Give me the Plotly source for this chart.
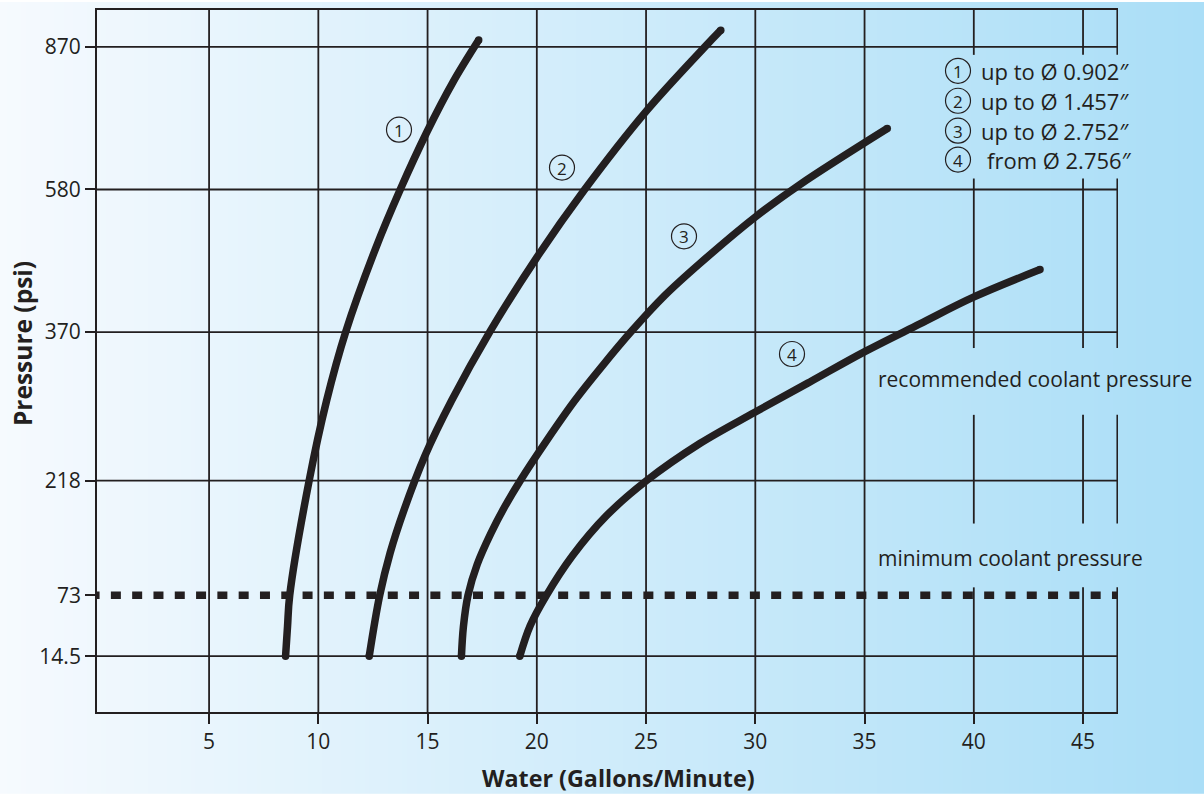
import base64
import struct
import zlib

import numpy as np
import plotly.graph_objects as go

# Water flow (gallons/minute) against coolant pressure (psi)
CURVE1_GPM = [8.50, 8.59, 8.69, 9.58, 10.38, 11.25, 12.62, 13.75, 14.98, 16.17, 17.34]
CURVE1_PSI = [14.5, 43, 73, 218, 300, 370, 493, 580, 698, 799, 884]

CURVE2_GPM = [12.33, 12.81, 13.29, 13.91, 14.87, 16.10, 17.84, 19.98, 22.19, 25.02, 27.69, 28.42]
CURVE2_PSI = [14.5, 73, 127, 180, 243, 300, 370, 479, 580, 740, 870, 904]

CURVE3_GPM = [16.55, 16.64, 16.85, 17.27, 17.89, 18.53, 19.24, 20.45, 21.74, 23.02, 24.30, 25.86, 27.46,
              29.98, 32.04, 36.04]
CURVE3_PSI = [14.5, 43, 73, 112, 151, 185, 218, 259, 300, 336, 370, 424, 471, 539, 590, 704]

CURVE4_GPM = [19.22, 19.70, 20.44, 21.63, 23.20, 25.02, 27.46, 29.98, 32.50, 35.01, 37.53, 39.96, 43.03]
CURVE4_PSI = [14.5, 44, 73, 123, 174, 218, 256, 288, 319, 350, 382, 421, 462]

CURVE_NUMBERS = ["1", "2", "3", "4"]
LEGEND_TEXT = ["up to Ø 0.902″", "up to Ø 1.457″", "up to Ø 2.752″", "from Ø 2.756″"]

# pressure axis is not linear: each labelled pressure sits at its own height
PRESSURE_TICKS = [14.5, 73, 218, 370, 580, 870]
PRESSURE_TICK_POS = [56, 117, 232, 381, 524, 667]
PRESSURE_GRID = [14.5, 218, 370, 580, 870]
GPM_TICKS = [5, 10, 15, 20, 25, 30, 35, 40, 45]

MIN_PRESSURE = 73
MIN_LINE_GPM = [-0.47, 46.6]

INK = "#231f20"
FONT = "'Open Sans', Roboto, sans-serif"
W, H = 1204, 794
L, R, T, B = 97, 86, 8, 82
PW, PH = W - L - R, H - T - B
X_RANGE = [-0.13, 46.6]


def ypos(p):
    p = np.asarray(p, dtype=float)
    pos = np.interp(p, PRESSURE_TICKS, PRESSURE_TICK_POS)
    slope = (PRESSURE_TICK_POS[-1] - PRESSURE_TICK_POS[-2]) / (PRESSURE_TICKS[-1] - PRESSURE_TICKS[-2])
    return np.where(p > PRESSURE_TICKS[-1], PRESSURE_TICK_POS[-1] + (p - PRESSURE_TICKS[-1]) * slope, pos)


def px(x):
    return (x - L) / PW


def py(y):
    return (H - B - y) / PH


def gradient_png(c0, c1, n=256):
    raw = b"\x00"
    for i in range(n):
        t = i / (n - 1)
        raw += bytes(int(round(a + (b - a) * t)) for a, b in zip(c0, c1))

    def chunk(tag, data):
        return struct.pack(">I", len(data)) + tag + data + struct.pack(">I", zlib.crc32(tag + data) & 0xffffffff)

    png = b"\x89PNG\r\n\x1a\n"
    png += chunk(b"IHDR", struct.pack(">IIBBBBB", n, 1, 8, 2, 0, 0, 0))
    png += chunk(b"IDAT", zlib.compress(raw))
    png += chunk(b"IEND", b"")
    return "data:image/png;base64," + base64.b64encode(png).decode()


fig = go.Figure()

curves = [(CURVE1_GPM, CURVE1_PSI), (CURVE2_GPM, CURVE2_PSI),
          (CURVE3_GPM, CURVE3_PSI), (CURVE4_GPM, CURVE4_PSI)]

# minimum coolant pressure, dotted
fig.add_trace(go.Scatter(x=MIN_LINE_GPM, y=ypos([MIN_PRESSURE, MIN_PRESSURE]), mode="lines",
                         line=dict(color=INK, width=7.5, dash="10px,11.3px"), hoverinfo="skip"))

for gpm, psi in curves:
    fig.add_trace(go.Scatter(x=gpm, y=ypos(psi), mode="lines",
                             line=dict(color=INK, width=7.5, shape="spline", smoothing=1.0)))
    # round caps at both ends
    fig.add_trace(go.Scatter(x=[gpm[0], gpm[-1]], y=ypos([psi[0], psi[-1]]), mode="markers",
                             marker=dict(color=INK, size=7.5, line=dict(width=0))))

grid = dict(color=INK, width=1.8)
shapes = []
for p in PRESSURE_GRID:
    yp = float(ypos(p))
    shapes.append(dict(type="line", xref="x", yref="y", x0=X_RANGE[0], x1=X_RANGE[1], y0=yp, y1=yp,
                       line=grid, layer="below"))
# vertical grid; the last columns are broken where the text sits
for g in GPM_TICKS[:7]:
    shapes.append(dict(type="line", xref="x", yref="y", x0=g, x1=g, y0=0, y1=PH, line=grid, layer="below"))
segments = [(0, 125), (189, 298), (365, 535), (659, PH)]
for g in GPM_TICKS[7:] + [X_RANGE[1] - 0.03]:
    for y0, y1 in segments:
        shapes.append(dict(type="line", xref="x", yref="y", x0=g, x1=g, y0=y0, y1=y1,
                           line=grid, layer="below"))

annotations = []
# numbered circles on the curves and in the key
label_px = [(399, 128), (562, 166), (684, 235), (792, 353)]
key_px = [(958, 69), (958, 99), (958, 129), (958, 158)]
for num, (cx, cy) in zip(CURVE_NUMBERS + CURVE_NUMBERS, label_px + key_px):
    shapes.append(dict(type="circle", xref="paper", yref="paper", xsizemode="pixel", ysizemode="pixel",
                       xanchor=px(cx), yanchor=py(cy), x0=-12.5, x1=12.5, y0=-12.5, y1=12.5,
                       line=dict(color=INK, width=1.2)))
    annotations.append(dict(text=num, x=px(cx), y=py(cy + 0.5), xref="paper", yref="paper",
                            showarrow=False, xanchor="center", yanchor="middle",
                            font=dict(family=FONT, size=17, color=INK)))

for txt, (cx, cy) in zip(LEGEND_TEXT, key_px):
    x0 = 985 if txt.startswith("from") else 979
    annotations.append(dict(text=txt, x=px(x0), y=py(cy), xref="paper", yref="paper",
                            showarrow=False, xanchor="left", yanchor="middle",
                            font=dict(family=FONT, size=22, color=INK)))

annotations.append(dict(text="recommended coolant pressure", x=px(876), y=py(378), xref="paper", yref="paper",
                        showarrow=False, xanchor="left", yanchor="middle",
                        font=dict(family=FONT, size=21, color=INK)))
annotations.append(dict(text="minimum coolant pressure", x=px(876), y=py(558), xref="paper", yref="paper",
                        showarrow=False, xanchor="left", yanchor="middle",
                        font=dict(family=FONT, size=21, color=INK)))

annotations.append(dict(text="<b>Pressure (psi)</b>", x=px(22), y=py(343), xref="paper", yref="paper",
                        showarrow=False, textangle=-90, xanchor="center", yanchor="middle",
                        font=dict(family=FONT, size=24.5, color=INK)))
annotations.append(dict(text="<b>Water (Gallons/Minute)</b>", x=px(618), y=py(778), xref="paper", yref="paper",
                        showarrow=False, xanchor="center", yanchor="middle",
                        font=dict(family=FONT, size=23.3, color=INK)))

fig.update_layout(
    width=W, height=H, autosize=False,
    margin=dict(l=L, r=R, t=T, b=B, pad=0),
    paper_bgcolor="white", plot_bgcolor="rgba(0,0,0,0)",
    showlegend=False,
    shapes=shapes,
    annotations=annotations,
    images=[dict(source=gradient_png((246, 250, 254), (170, 222, 247)), xref="paper", yref="paper",
                 x=-L / PW, y=1 + T / PH, sizex=W / PW, sizey=H / PH,
                 xanchor="left", yanchor="top", sizing="stretch", layer="below")],
)
fig.update_xaxes(range=X_RANGE, tickvals=GPM_TICKS, ticks="outside", ticklen=10, tickwidth=1.8,
                 tickcolor=INK, showgrid=False, zeroline=False, showline=True, linewidth=1.8,
                 linecolor=INK, mirror=True, tickfont=dict(family=FONT, size=21, color=INK))
fig.update_yaxes(range=[0, PH], tickvals=ypos(PRESSURE_TICKS), ticktext=[str(v) for v in PRESSURE_TICKS],
                 ticks="outside", ticklen=10, tickwidth=1.8, tickcolor=INK, showgrid=False,
                 zeroline=False, showline=True, linewidth=1.8,
                 linecolor=INK, mirror=False, tickfont=dict(family=FONT, size=21, color=INK))

fig.write_html("out.html", config={"displayModeBar": False},
               post_script="document.body.style.margin = '0';")
